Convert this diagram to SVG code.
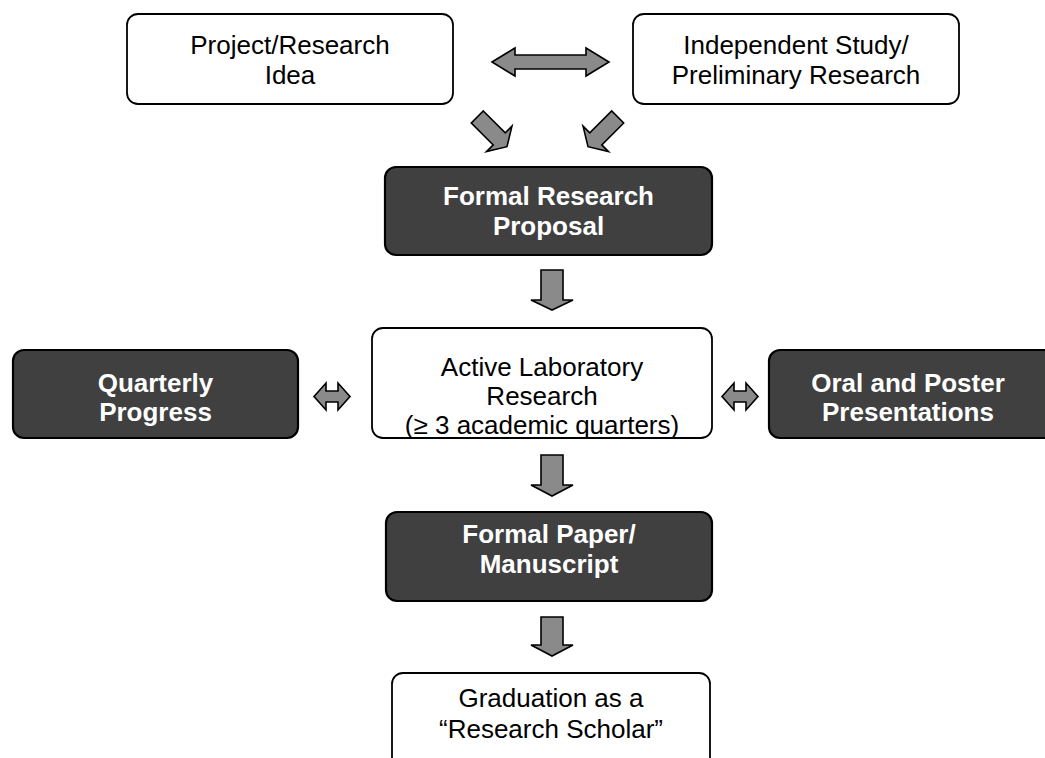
<svg xmlns="http://www.w3.org/2000/svg" width="1045" height="758" viewBox="0 0 1045 758">
<style>
.wbox{fill:#ffffff;stroke:#000000;stroke-width:1.8}
.dbox{fill:#404040;stroke:#000000;stroke-width:2.2}
.arr{fill:#8a8a8a;stroke:#000000;stroke-width:1.6;stroke-linejoin:miter}
.t{font-family:"Liberation Sans",Arial,sans-serif;font-size:26px;text-anchor:middle;fill:#000000}
.tb{font-family:"Liberation Sans",Arial,sans-serif;font-size:26px;font-weight:bold;text-anchor:middle;fill:#ffffff}
</style>
<defs>
<clipPath id="activeClip"><rect x="372" y="328" width="340" height="110" rx="11"/></clipPath>
</defs>
<rect x="0" y="0" width="1045" height="758" fill="#ffffff"/>

<g id="connectors">
<path class="arr" d="M492,62 L515,48 V55 H586 V48 L609,62 L586,76 V69 H515 V76 Z"/>
<path class="arr" transform="translate(477.3,117) rotate(45)" d="M0,-8.5 H31 V-18 L42,0 L31,18 V8.5 H0 Z"/>
<path class="arr" transform="translate(617.7,117) rotate(135)" d="M0,-8.5 H31 V-18 L42,0 L31,18 V8.5 H0 Z"/>
<path class="arr" d="M541,270 H563 V300 H573 L552,310 L531,300 H541 Z"/>
<path class="arr" d="M541,455 H563 V485 H573 L552,496 L531,485 H541 Z"/>
<path class="arr" d="M541,617 H563 V645 H573 L552,656 L531,645 H541 Z"/>
<path class="arr" d="M314,396.5 L326,383 V391 H338 V383 L350,396.5 L338,410 V402 H326 V410 Z"/>
<path class="arr" d="M722,396.5 L734,383 V391 H746 V383 L758,396.5 L746,410 V402 H734 V410 Z"/>
</g>

<g id="idea">
<rect class="wbox" x="127" y="14" width="326" height="90" rx="11"/>
<text class="t" x="290" y="54">Project/Research</text>
<text class="t" x="290" y="84">Idea</text>
</g>

<g id="independent">
<rect class="wbox" x="633" y="14" width="326" height="90" rx="11"/>
<text class="t" x="796" y="54">Independent Study/</text>
<text class="t" x="796" y="84">Preliminary Research</text>
</g>

<g id="proposal">
<rect class="dbox" x="385" y="167" width="327" height="88" rx="11"/>
<text class="tb" x="548.5" y="205">Formal Research</text>
<text class="tb" x="548.5" y="235">Proposal</text>
</g>

<g id="quarterly">
<rect class="dbox" x="13" y="350" width="285" height="88" rx="11"/>
<text class="tb" x="155.5" y="392">Quarterly</text>
<text class="tb" x="155.5" y="421">Progress</text>
</g>

<g id="active">
<rect class="wbox" x="372" y="328" width="340" height="110" rx="11"/>
<g clip-path="url(#activeClip)">
<text class="t" x="542" y="376">Active Laboratory</text>
<text class="t" x="542" y="405">Research</text>
<text class="t" x="542" y="434">(≥ 3 academic quarters)</text>
</g>
</g>

<g id="oral">
<rect class="dbox" x="769" y="350" width="285" height="88" rx="11"/>
<text class="tb" x="908" y="392">Oral and Poster</text>
<text class="tb" x="908" y="421">Presentations</text>
</g>

<g id="paper">
<rect class="dbox" x="386" y="512" width="326" height="89" rx="11"/>
<text class="tb" x="549" y="543">Formal Paper/</text>
<text class="tb" x="549" y="573">Manuscript</text>
</g>

<g id="graduation">
<rect class="wbox" x="392" y="673" width="318" height="100" rx="11"/>
<text class="t" x="551" y="707">Graduation as a</text>
<text class="t" x="551" y="738">“Research Scholar”</text>
</g>
</svg>
